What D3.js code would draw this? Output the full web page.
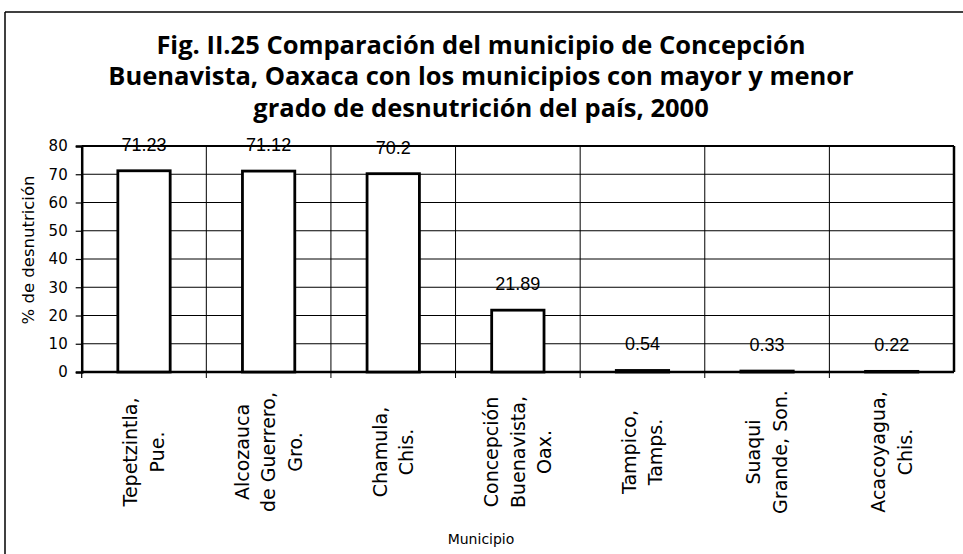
<!DOCTYPE html>
<html>
<head>
<meta charset="utf-8">
<script src="https://d3js.org/d3.v7.min.js"></script>
<style>
  body { margin: 0; background: #fff; }
  svg { display: block; }
  .title { font-family: "Open Sans", sans-serif; font-weight: bold; font-size: 25.5px; }
  .tick-lbl { font-family: "DejaVu Sans", sans-serif; font-size: 15px; }
  .cat-lbl { font-family: "DejaVu Sans", sans-serif; font-size: 19px; }
  .val-lbl { font-family: "Liberation Sans", Arial, sans-serif; font-size: 18px; }
  .axis-title { font-family: "DejaVu Sans", sans-serif; font-size: 14px; }
  .y-title { font-family: "DejaVu Sans", sans-serif; font-size: 16.5px; }
</style>
</head>
<body>
<svg id="chart" width="963" height="554"></svg>
<script>
// data
var titleLines = [
  "Fig. II.25 Comparación del municipio de Concepción",
  "Buenavista, Oaxaca con los municipios con mayor y menor",
  "grado de desnutrición del país, 2000"
];
var categories = [
  ["Tepetzintla,", "Pue."],
  ["Alcozauca", "de Guerrero,", "Gro."],
  ["Chamula,", "Chis."],
  ["Concepción", "Buenavista,", "Oax."],
  ["Tampico,", "Tamps."],
  ["Suaqui", "Grande, Son."],
  ["Acacoyagua,", "Chis."]
];
var values = [71.23, 71.12, 70.2, 21.89, 0.54, 0.33, 0.22];
var valueLabels = ["71.23", "71.12", "70.2", "21.89", "0.54", "0.33", "0.22"];
var yTicks = [0, 10, 20, 30, 40, 50, 60, 70, 80];
var yTitle = "% de desnutrición";
var xTitle = "Municipio";

// plot box (window.top is read-only, so no plain "top")
var pL = 81.7, pR = 954, pT = 146, pB = 372;
const svg = d3.select("#chart");

var x = d3.scaleBand()
  .domain(d3.range(categories.length))
  .range([pL, pR]);
var y = d3.scaleLinear()
  .domain([0, 80])
  .range([pB, pT]);

// outer frame (top + left only visible)
svg.append("line").attr("x1", 5).attr("y1", 12).attr("x2", 963).attr("y2", 12)
  .attr("stroke", "#000").attr("stroke-width", 1.5);
svg.append("line").attr("x1", 5).attr("y1", 12).attr("x2", 5).attr("y2", 554)
  .attr("stroke", "#000").attr("stroke-width", 1.5);

// title
svg.append("g").selectAll("text")
  .data(titleLines)
  .enter()
  .append("text")
  .attr("class", "title")
  .attr("x", 481)
  .attr("y", (d, i) => 53.5 + i * 31.5)
  .attr("text-anchor", "middle")
  .text(d => d);

// horizontal grid
svg.append("g").selectAll("line")
  .data(yTicks)
  .enter()
  .append("line")
  .attr("x1", pL).attr("x2", pR)
  .attr("y1", d => y(d)).attr("y2", d => y(d))
  .attr("stroke", "#000")
  .attr("stroke-width", d => d == 80 ? 2 : 1);

// vertical grid at category boundaries, running down as tick marks
var bounds = d3.range(1, categories.length).map(i => x(i));
svg.append("g").selectAll("line")
  .data(bounds)
  .enter()
  .append("line")
  .attr("x1", d => d).attr("x2", d => d)
  .attr("y1", pT).attr("y2", pB + 6)
  .attr("stroke", "#000")
  .attr("stroke-width", 1);

// y axis
var yAxis = d3.axisLeft(y).tickValues(yTicks).tickSize(6).tickPadding(8);
var ya = svg.append("g")
  .attr("transform", "translate(" + pL + ",0)")
  .call(yAxis);
ya.select(".domain").attr("stroke", "#000").attr("stroke-width", 2.5);
ya.selectAll(".tick line").attr("stroke", "#000").attr("stroke-width", 1.2);
ya.selectAll(".tick text").attr("class", "tick-lbl").attr("fill", "#000");

// right border and base line
svg.append("line").attr("x1", pR).attr("x2", pR).attr("y1", pT).attr("y2", pB)
  .attr("stroke", "#000").attr("stroke-width", 2.5);
svg.append("line").attr("x1", pL).attr("x2", pR).attr("y1", pB).attr("y2", pB)
  .attr("stroke", "#000").attr("stroke-width", 2.5);
svg.append("line").attr("x1", pL).attr("x2", pL).attr("y1", pB).attr("y2", pB + 6)
  .attr("stroke", "#000").attr("stroke-width", 1.2);

// bars
var bw = x.bandwidth() * 0.42;
svg.append("g").selectAll("rect")
  .data(values)
  .enter()
  .append("rect")
  .attr("x", (d, i) => x(i) + (x.bandwidth() - bw) / 2)
  .attr("y", d => y(d))
  .attr("width", bw)
  .attr("height", d => pB - y(d))
  .attr("fill", "#fff")
  .attr("stroke", "#000")
  .attr("stroke-width", 2.8);

// value labels
svg.append("g").selectAll("text")
  .data(values)
  .enter()
  .append("text")
  .attr("class", "val-lbl")
  .attr("x", (d, i) => x(i) + x.bandwidth() / 2)
  .attr("y", d => y(d) - 20)
  .attr("text-anchor", "middle")
  .text((d, i) => valueLabels[i]);

// category labels, rotated, multi-line
var catG = svg.append("g").selectAll("g")
  .data(categories)
  .enter()
  .append("g");
catG.selectAll("text")
  .data((d, i) => d.map((t, j) => ({ t: t, j: j, n: d.length, i: i })))
  .enter()
  .append("text")
  .attr("class", "cat-lbl")
  .attr("text-anchor", "middle")
  .attr("dy", "0.35em")
  .attr("transform", d => {
    var cx = x(d.i) + x.bandwidth() / 2 + (d.j - (d.n - 1) / 2) * 26.7;
    return "translate(" + cx + ",452) rotate(-90)";
  })
  .text(d => d.t);

// axis titles
svg.append("text")
  .attr("class", "y-title")
  .attr("transform", "translate(28,250) rotate(-90)")
  .attr("text-anchor", "middle")
  .attr("dy", "0.35em")
  .text(yTitle);
svg.append("text")
  .attr("class", "axis-title")
  .attr("x", 481)
  .attr("y", 544)
  .attr("text-anchor", "middle")
  .text(xTitle);
</script>
</body>
</html>
